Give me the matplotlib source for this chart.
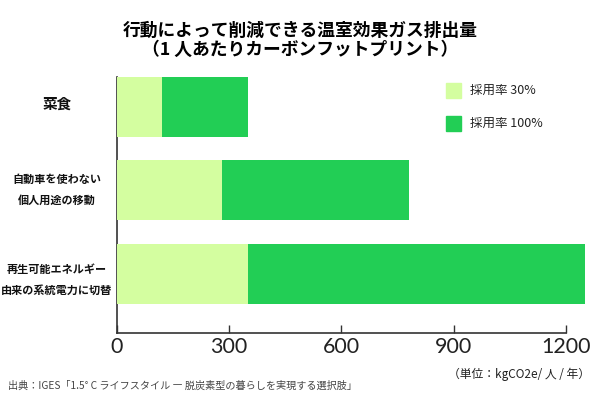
import matplotlib
matplotlib.use("Agg")
import matplotlib.pyplot as plt
from matplotlib.patches import Rectangle

plt.rcParams['font.family'] = ['Noto Sans CJK JP', 'DejaVu Sans']

categories = ["菜食", "自動車を使わない\n個人用途の移動", "再生可能エネルギー\n由来の系統電力に切替"]
rate30 = [122, 282, 352]
rate100 = [352, 781, 1252]
series_labels = ["採用率 30%", "採用率 100%"]
xticks = [0, 300, 600, 900, 1200]

c_light = "#D4FEA0"
c_dark = "#22CE55"

fig = plt.figure(figsize=(6, 4), dpi=100)
ax = fig.add_axes([0.1945, 0.168, 0.7485, 0.6395])

ypos = list(range(len(categories)))
ax.barh(ypos, rate100, height=0.72, color=c_dark, clip_on=False, zorder=2)
ax.barh(ypos, rate30, height=0.72, color=c_light, clip_on=False, zorder=3)

ax.set_xlim(0, 1200)
ax.set_ylim(2.71, -0.36)
ax.set_xticks(xticks)
ax.set_xticklabels([str(v) for v in xticks], fontsize=15.5, family=['Lato', 'DejaVu Sans'])
ax.tick_params(axis='x', direction='in', length=6, width=1, pad=3, color='#333333', labelcolor='#222222')
ax.set_yticks([y + 0.15 for y in ypos])
ax.set_yticklabels([])
ax.tick_params(axis='y', direction='in', length=2, width=1)
for s in ['top', 'right']:
    ax.spines[s].set_visible(False)
for s in ['left', 'bottom']:
    ax.spines[s].set_color('#333333')
    ax.spines[s].set_linewidth(1.2)

# category labels
for i, cat in enumerate(categories):
    ycen = [104, 190, 280][i]
    fs = 10.5 if i == 0 else 8
    fig.text(57 / 600, 1 - ycen / 400, cat, ha='center', va='center', fontsize=fs,
             fontweight='bold', linespacing=1.75, color='#111111')

# title
fig.text(0.5, 1 - 31 / 400, "行動によって削減できる温室効果ガス排出量", ha='center', va='center',
         fontsize=12.8, fontweight='bold')
fig.text(0.5, 1 - 50 / 400, "（1 人あたりカーボンフットプリント）", ha='center', va='center',
         fontsize=12.8, fontweight='bold')

# legend
for j, (lab, col) in enumerate(zip(series_labels, [c_light, c_dark])):
    ytop = [83, 116][j]
    fig.patches.append(Rectangle((446 / 600, 1 - (ytop + 15) / 400), 15 / 600, 15 / 400,
                                 transform=fig.transFigure, color=col, figure=fig))
    fig.text(470 / 600, 1 - (ytop + 7.5) / 400, lab, ha='left', va='center', fontsize=9,
             color='#222222')

fig.text(590 / 600, 1 - 374 / 400, "（単位：kgCO2e/ 人 / 年）", ha='right', va='center',
         fontsize=8.5, color='#222222')
fig.text(8 / 600, 1 - 386 / 400, "出典：IGES「1.5° C ライフスタイル ― 脱炭素型の暮らしを実現する選択肢」",
         ha='left', va='center', fontsize=7.3, color='#444444')

fig.savefig("out.png", dpi=100)
